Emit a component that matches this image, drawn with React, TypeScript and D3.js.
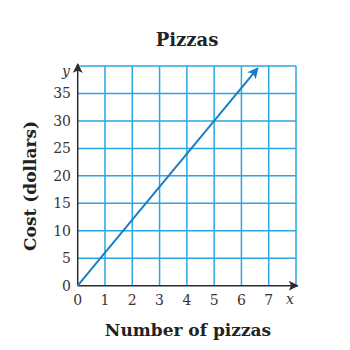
import React from "react";
import * as d3 from "d3";

const xTicks = [0, 1, 2, 3, 4, 5, 6, 7];
const yTicks = [0, 5, 10, 15, 20, 25, 30, 35];
const lineX = [0, 6.6];
const lineY = [0, 39.6];
const title = "Pizzas";
const xLabel = "Number of pizzas";
const yLabel = "Cost (dollars)";

const W = 350, H = 350;
const x0 = 77.7, x1 = 296, y0 = 285.7, y1 = 66;
const gridColor = "#2aa7e1";
const lineColor = "#1b7dc2";
const textColor = "#3b3232";
const font = "'DejaVu Serif', 'Liberation Serif', serif";

export default function App() {
  const x = d3.scaleLinear().domain([0, 8]).range([x0, x1]);
  const y = d3.scaleLinear().domain([0, 40]).range([y0, y1]);
  const gx = d3.range(1, 9);
  const gy = d3.range(5, 45, 5);
  const pts: [number, number][] = lineX.map((v, i) => [x(v), y(lineY[i])]);
  const line = d3.line<[number, number]>()(pts) || "";
  return (
    <svg width={W} height={H} style={{ position: "absolute", left: 0, top: 0, background: "#fff" }}>
      <defs>
        <marker id="arrB" viewBox="0 0 10 10" refX="9" refY="5" markerWidth="10" markerHeight="10" markerUnits="userSpaceOnUse" orient="auto">
          <path d="M0,0 L10,5 L0,10 L2.5,5 Z" fill="#2b2b2b" />
        </marker>
        <marker id="arrL" viewBox="0 0 10 10" refX="9" refY="5" markerWidth="11" markerHeight="11" markerUnits="userSpaceOnUse" orient="auto">
          <path d="M0,0 L10,5 L0,10 L2.5,5 Z" fill={lineColor} />
        </marker>
      </defs>
      <text x={187} y={46} textAnchor="middle" fontFamily={font} fontWeight="bold" fontSize={18} fill="#222">{title}</text>
      {gx.map(v => (
        <line key={"gx" + v} x1={x(v)} x2={x(v)} y1={y0} y2={y1} stroke={gridColor} strokeWidth={1.5} />
      ))}
      {gy.map(v => (
        <line key={"gy" + v} x1={x0} x2={x1} y1={y(v)} y2={y(v)} stroke={gridColor} strokeWidth={1.5} />
      ))}
      <line x1={x0} x2={x0 + 220} y1={y0} y2={y0} stroke="#2b2b2b" strokeWidth={1.5} markerEnd="url(#arrB)" />
      <line x1={x0} x2={x0} y1={y0} y2={y1 - 2} stroke="#2b2b2b" strokeWidth={1.5} markerEnd="url(#arrB)" />
      <path d={line} fill="none" stroke={lineColor} strokeWidth={2} markerEnd="url(#arrL)" />
      {yTicks.map(v => (
        <text key={"yt" + v} x={71} y={y(v) + 5} textAnchor="end" fontFamily={font} fontSize={14} fill={textColor}>{v}</text>
      ))}
      {xTicks.map(v => (
        <text key={"xt" + v} x={x(v)} y={305} textAnchor="middle" fontFamily={font} fontSize={14} fill={textColor}>{v}</text>
      ))}
      <text x={66} y={76} textAnchor="middle" fontFamily={font} fontStyle="italic" fontSize={14} fill={textColor}>y</text>
      <text x={290} y={304} textAnchor="middle" fontFamily={font} fontStyle="italic" fontSize={14} fill={textColor}>x</text>
      <text x={188} y={336} textAnchor="middle" fontFamily={font} fontWeight="bold" fontSize={17} fill="#222">{xLabel}</text>
      <text transform="translate(36,186) rotate(-90)" textAnchor="middle" fontFamily={font} fontWeight="bold" fontSize={17} fill="#222">{yLabel}</text>
    </svg>
  );
}
